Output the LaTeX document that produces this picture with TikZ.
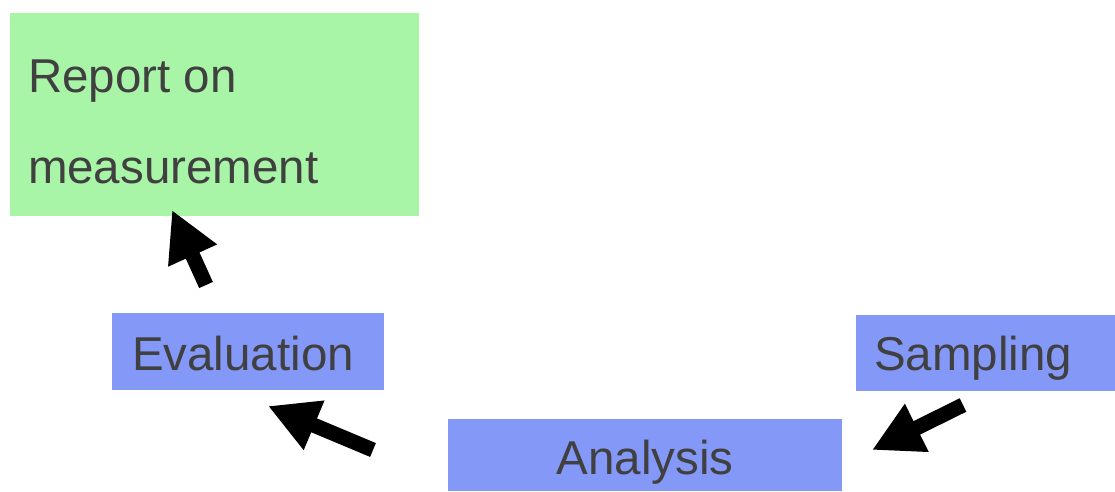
\documentclass[tikz,border=0pt]{standalone}
\usepackage{fontspec}
\setmainfont{Liberation Sans}
\usetikzlibrary{arrows.meta}
\definecolor{boxblue}{RGB}{132,152,248}
\definecolor{boxgreen}{RGB}{168,245,168}
\definecolor{txtgray}{RGB}{64,64,64}
\tikzset{
  boxbase/.style={inner sep=0pt, outer sep=0pt},
  bluebox/.style={boxbase, fill=boxblue},
  greenbox/.style={boxbase, fill=boxgreen},
  lbl/.style={inner sep=0pt, outer sep=0pt, text=txtgray, font=\fontsize{47.5}{50}\selectfont},
  blockarrow/.style={line width=15pt, -{Triangle[length=50pt,width=50pt]}, black}
}
\begin{document}
\begin{tikzpicture}[x=1pt,y=1pt]
\useasboundingbox (0,0) rectangle (1115,491);
% boxes
\node[greenbox, minimum width=409pt, minimum height=203pt] (report) at (214.5,376.5) {};
\node[bluebox, minimum width=272pt, minimum height=77pt] (eval) at (248,139.5) {};
\node[bluebox, minimum width=259pt, minimum height=76pt] (samp) at (985.5,138) {};
\node[bluebox, minimum width=394pt, minimum height=72pt] (anal) at (645,36) {};
% texts
\node[lbl, anchor=base west] (t1) at (28,399) {Report on};
\node[lbl, anchor=base west] (t2) at (28,308) {measurement};
\node[lbl, anchor=base] (tev) at (243,121) {Evaluation};
\node[lbl, anchor=base west] (tsa) at (874,121) {Sampling};
\node[lbl, anchor=base] (tan) at (anal.center |- 0,17) {Analysis};
% arrow end points
\coordinate (a1s) at (206,206);
\coordinate (a1e) at (172,281);
\coordinate (a2s) at (373,41);
\coordinate (a2e) at (268,85);
\coordinate (a3s) at (963,86);
\coordinate (a3e) at (872,41);
\draw[blockarrow] (a1s) -- (a1e);
\draw[blockarrow] (a2s) -- (a2e);
\draw[blockarrow] (a3s) -- (a3e);
\end{tikzpicture}
\end{document}
